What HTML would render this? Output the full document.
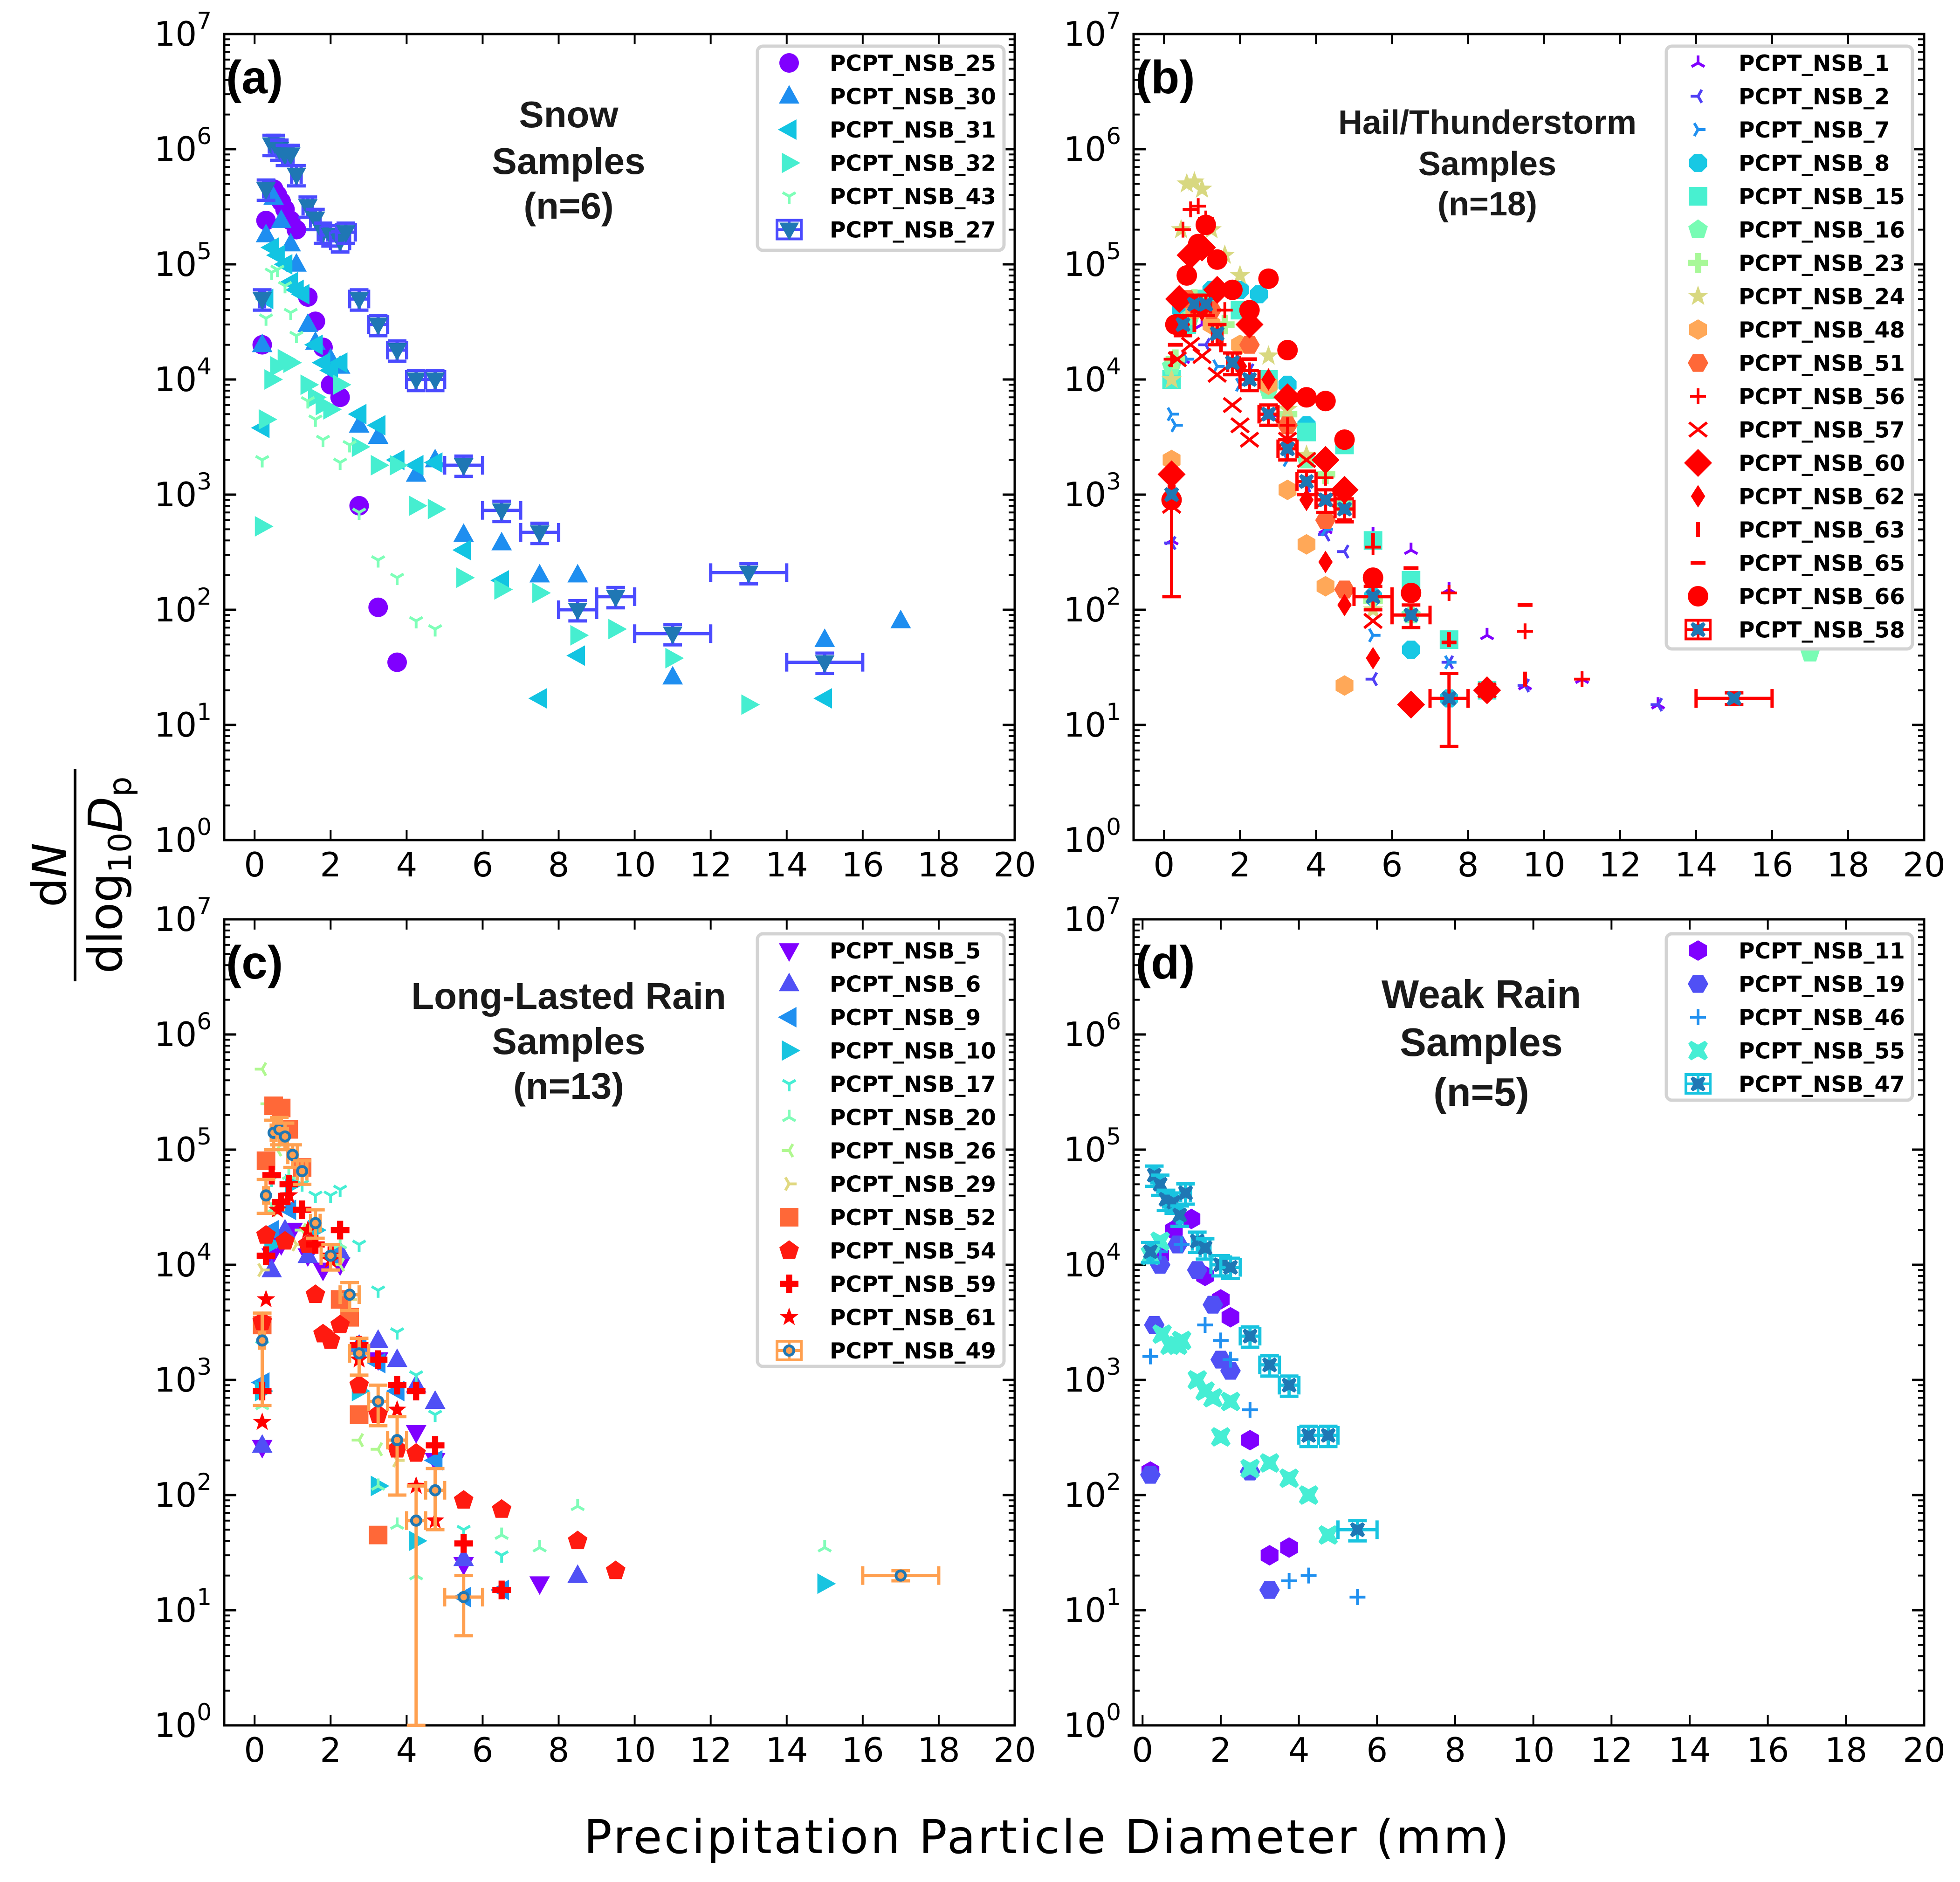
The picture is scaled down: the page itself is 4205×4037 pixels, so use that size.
<!DOCTYPE html>
<html><head><meta charset="utf-8"><style>
html,body{margin:0;padding:0;background:#fff;}
svg{display:block;}
text{font-family:"DejaVu Sans","Liberation Sans",sans-serif;}
text.lib{font-family:"Liberation Sans",sans-serif;}
</style></head><body>
<svg id="fig" xmlns="http://www.w3.org/2000/svg" width="4205" height="4037" viewBox="0 0 4205 4037">
<rect x="0" y="0" width="4205" height="4037" fill="#fff"/>
<g id="ylab" transform="translate(161,1877) rotate(-90)">
<line x1="-228" y1="0" x2="228" y2="0" stroke="#000" stroke-width="6"/>
<text x="0" y="-20" text-anchor="middle" font-size="100">d<tspan font-style="italic">N</tspan></text>
<text x="0" y="100" text-anchor="middle" font-size="100">dlog<tspan font-size="68" dy="20">10</tspan><tspan dy="-20" font-style="italic">D</tspan><tspan font-size="68" dy="20">p</tspan></text>
</g>
<text x="2245" y="3975" text-anchor="middle" font-size="100" textLength="1985">Precipitation Particle Diameter (mm)</text>
</svg>
<script>
// ---------- Panel (a) Snow ----------
const a25x=[0.2,0.3,0.5,0.6,0.7,0.8,0.95,1.1,1.4,1.6,1.8,2.0,2.25,2.75,3.25,3.75];
const a25y=[2e4,2.4e5,4.5e5,4e5,3.5e5,3e5,2.4e5,2e5,5.2e4,3.2e4,1.9e4,9e3,7e3,800,105,35];
const a30x=[0.2,0.3,0.5,0.7,0.95,1.1,1.4,1.6,2.0,2.25,2.75,3.25,4.25,4.75,5.5,6.5,7.5,8.5,11,15,17];
const a30y=[2e4,1.8e5,3.8e5,2.4e5,1.5e5,1e5,3e4,2.1e4,1.5e4,1.3e4,4e3,3.2e3,1.5e3,2e3,450,380,200,200,26,55,80];
const a31x=[0.2,0.3,0.45,0.6,0.8,0.95,1.1,1.25,1.6,1.8,2.0,2.25,2.75,3.25,3.75,4.25,4.75,5.5,6.5,7.5,8.5,15];
const a31y=[3.8e3,5e4,1.4e5,1.2e5,1e5,7e4,6e4,5.5e4,2e4,1.4e4,1.2e4,1.4e4,5e3,4e3,2e3,1.8e3,1.9e3,330,180,17,40,17];
const a32x=[0.2,0.3,0.45,0.6,0.8,0.95,1.4,1.6,1.8,2.0,2.25,2.75,3.25,3.75,4.25,4.75,5.5,6.5,7.5,8.5,9.5,11,13];
const a32y=[530,4.5e3,1e4,1.3e4,1.5e4,1.4e4,9e3,7e3,6e3,5.5e3,9e3,2.6e3,1.8e3,1.8e3,800,750,190,150,140,60,68,38,15];
const a43x=[0.2,0.3,0.45,0.6,0.8,0.95,1.1,1.4,1.6,1.8,2.25,2.5,2.75,3.25,3.75,4.25,4.75];
const a43y=[2e3,3.4e4,8.5e4,9e4,6.5e4,3.8e4,2.4e4,6.5e3,4.5e3,3e3,1.9e3,2.7e3,700,270,190,80,68];
const a27x=[0.2,0.3,0.45,0.55,0.65,0.8,0.95,1.1,1.4,1.6,1.8,2.0,2.25,2.4,2.75,3.25,3.75,4.25,4.75,5.5,6.5,7.5,8.5,9.5,11,13,15];
const a27y=[5e4,4.5e5,1.1e6,1.1e6,1e6,9e5,9e5,6e5,3.2e5,2.5e5,1.9e5,1.8e5,1.6e5,1.9e5,5e4,3e4,1.8e4,1e4,1e4,1.8e3,730,470,100,130,62,210,35];
// ---------- Panel (b) Hail ----------
const b1x=[0.2,0.5,1.0,3.0,4.25,5.5,6.5,7.5,8.5,9.5,11,13];
const b1y=[400,1.5e4,3e4,5e3,500,450,330,150,60,22,25,15];
const b2x=[0.2,0.45,1.1,2.25,3.75,4.25,4.75,5.5,7.5,8.5,9.5,13,15];
const b2y=[380,1.5e4,2e4,1.2e4,1.2e3,450,320,25,35,20,22,15,17];
const b7x=[0.2,0.3,0.6,1.4,2.0,3.25,4.25,5.5,7.5];
const b7y=[5e3,4e3,1.5e4,1.3e4,9e3,2e3,500,60,35];
const b8x=[0.2,0.45,0.8,1.25,2.0,2.5,3.25,3.75,4.75,5.5,6.5,7.5];
const b8y=[900,4e4,5e4,6e4,6e4,5.5e4,9e3,4e3,1.1e3,130,45,17];
const b15x=[0.2,0.6,1.1,2.0,2.75,3.75,4.75,5.5,6.5,7.5,8.5];
const b15y=[1e4,3e4,5e4,4e4,1e4,3.5e3,2.7e3,400,180,55,20];
const b16x=[0.2,0.7,1.4,2.75,3.75,4.75,6.5,17];
const b16y=[1.3e4,3.5e4,6e4,8e3,2e3,800,90,42];
const b23x=[0.3,0.8,1.6,3.25,4.25,5.5];
const b23y=[1.5e4,5e4,3e4,5e3,1.5e3,120];
const b24x=[0.2,0.45,0.6,0.8,1.0,1.25,1.6,2.0,2.75,3.25,3.75,5.5];
const b24y=[1e4,2e5,5e5,5.2e5,4.5e5,2e5,1.2e5,8e4,1.6e4,5.5e3,2.2e3,100];
const b48x=[0.2,0.4,0.8,1.25,2.0,2.75,3.25,3.75,4.25,4.75];
const b48y=[2e3,3e4,4e4,3e4,2e4,9e3,1.1e3,370,160,22];
const b51x=[0.3,0.6,1.25,2.25,3.25,4.25,4.75];
const b51y=[3e4,5e4,4e4,2e4,4e3,600,150];
const b56x=[0.2,0.5,0.7,0.9,1.1,1.6,2.25,3.25,4.25,5.5,7.5,9.5,11];
const b56y=[1.5e4,2e5,3e5,3.2e5,2.5e5,4e4,1.2e4,4e3,1.4e3,350,140,65,25];
const b57x=[0.2,0.35,0.7,1.0,1.4,1.8,2.0,2.25,2.75,3.25,3.75,4.25,5.5,8.5];
const b57y=[800,1.5e4,2e4,1.6e4,1.1e4,6e3,4e3,3e3,5e3,3e3,2e3,900,80,20];
const b60x=[0.2,0.4,0.7,1.0,1.4,2.25,3.25,4.25,4.75,6.5,8.5];
const b60y=[1.5e3,5e4,1.2e5,1.4e5,6e4,3e4,7e3,2e3,1.1e3,15,20];
const b62x=[0.2,0.5,1.0,2.0,2.75,3.75,4.25,4.75,5.5,6.5];
const b62y=[1.5e3,3e4,4e4,1.3e4,1e4,900,260,110,38,15];
const b63x=[0.25,0.8,1.5,3.25,5.5,7.5,9.5];
const b63y=[1e3,3e4,2e4,3e3,400,55,25];
const b65x=[0.3,1.0,2.25,4.75,6.5,7.5,9.5];
const b65y=[2e4,4e4,1.5e4,600,230,52,110];
const b66x=[0.2,0.3,0.6,0.9,1.1,1.4,1.8,2.25,2.75,3.25,3.75,4.25,4.75,5.5,6.5];
const b66y=[900,3e4,8e4,1.5e5,2.2e5,1.1e5,6e4,4e4,7.5e4,1.8e4,7e3,6.5e3,3e3,190,140];
const b58x=[0.2,0.5,0.8,1.1,1.4,1.8,2.25,2.75,3.25,3.75,4.25,4.75,5.5,6.5,7.5,15];
const b58y=[1e3,3e4,4.5e4,4.5e4,2.5e4,1.4e4,1e4,5e3,2.5e3,1.3e3,900,750,130,90,17,17];
const b58lo=[130,2.4e4,3.6e4,3.6e4,2e4,1.1e4,8e3,4e3,2e3,1e3,700,580,100,70,6.5,15];
const b58hi=[1.6e3,3.6e4,5.4e4,5.4e4,3e4,1.7e4,1.2e4,6e3,3e3,1.6e3,1.1e3,920,160,110,28,19];
// ---------- Panel (c) Long rain ----------
const c5x=[0.2,0.45,0.7,1.0,1.4,1.8,2.25,3.25,4.25,4.75,5.5,7.5];
const c5y=[260,1.2e4,1.5e4,2e4,1.2e4,9e3,1e4,1.5e3,350,200,25,17];
const c6x=[0.2,0.45,0.8,1.4,2.25,2.75,3.25,3.75,4.25,4.75,5.5,8.5];
const c6y=[270,9e3,2e4,1.2e4,1.3e4,2e3,2.2e3,1.5e3,900,650,28,20];
const c9x=[0.2,0.45,0.9,1.4,2.0,2.75,3.25,3.75,4.75,5.5,6.5];
const c9y=[950,2e4,3e4,1.5e4,1.2e4,1.9e3,1.4e3,800,200,13,15];
const c10x=[0.2,0.45,1.0,1.6,2.75,3.25,4.25,15];
const c10y=[800,1.5e4,5e4,2e4,800,120,40,17];
const c17x=[0.2,0.45,0.8,1.25,1.6,2.0,2.25,2.75,3.25,3.75,4.25,4.75,5.5,6.5];
const c17y=[2e3,5.5e4,1.2e5,5e4,4e4,4e4,4.5e4,1.5e4,6e3,2.6e3,1.1e3,500,50,30];
const c20x=[0.2,0.45,0.9,2.25,3.25,3.75,4.25,6.5,7.5,8.5,15];
const c20y=[600,3e4,6e4,1.5e4,120,55,20,45,35,80,35];
const c26x=[0.2,0.35,0.6,1.25,2.25,2.75,3.25];
const c26y=[5e5,2.5e5,1e5,2e4,1e4,300,250];
const c29x=[0.2,0.6,1.1,2.5,3.75];
const c29y=[9e3,3e4,1.5e4,5e3,200];
const c52x=[0.2,0.3,0.5,0.7,0.9,1.25,2.25,2.5,2.75,3.25];
const c52y=[3e3,8e4,2.4e5,2.3e5,1.5e5,7e4,5e3,3.5e3,500,45];
const c54x=[0.2,0.3,0.8,1.4,1.6,1.8,2.0,2.25,2.75,3.25,3.75,4.25,5.5,6.5,8.5,9.5];
const c54y=[3.2e3,1.8e4,1.6e4,1.5e4,5.5e3,2.5e3,2.2e3,3e3,900,500,250,230,90,75,40,22];
const c59x=[0.2,0.3,0.45,0.7,0.9,1.25,1.6,2.0,2.25,2.75,3.25,3.75,4.25,4.75,5.5,6.5];
const c59y=[800,1.2e4,6e4,3.5e4,5e4,3e4,1.5e4,1.2e4,2e4,2e3,1.5e3,900,800,270,38,15];
const c61x=[0.2,0.3,0.6,0.9,1.4,2.0,2.75,3.75,4.25,4.75];
const c61y=[430,5e3,3e4,4e4,2e4,1.1e4,1.5e3,550,120,60];
const c49x=[0.2,0.3,0.5,0.65,0.8,1.0,1.25,1.6,2.0,2.5,2.75,3.25,3.75,4.25,4.75,5.5,17];
const c49y=[2.2e3,4e4,1.4e5,1.5e5,1.3e5,9e4,6.5e4,2.3e4,1.2e4,5.5e3,1.7e3,650,300,60,110,13,20];
const c49lo=[600,2.8e4,1e5,1.1e5,1e5,7e4,5e4,1.7e4,9e3,4e3,1.1e3,400,100,1,50,6,18];
const c49hi=[3.8e3,5.5e4,1.8e5,1.9e5,1.7e5,1.1e5,8e4,3e4,1.5e4,7e3,2.3e3,900,480,120,170,20,22];
// ---------- Panel (d) Weak rain ----------
const d11x=[0.2,0.45,0.8,1.25,1.6,2.0,2.25,2.75,3.25,3.75];
const d11y=[160,1.2e4,2e4,2.5e4,8e3,5e3,3.5e3,300,30,35];
const d19x=[0.2,0.3,0.45,0.9,1.4,1.8,2.0,2.25,2.75,3.25];
const d19y=[150,3e3,1e4,1.5e4,9e3,4.5e3,1.5e3,1.2e3,160,15];
const d46x=[0.2,0.45,1.0,1.6,2.0,2.25,2.75,3.75,4.25,5.5];
const d46y=[1.6e3,1.3e4,1.5e4,3e3,2.2e3,1.5e3,550,18,20,13];
const d55x=[0.2,0.45,0.5,0.7,0.9,1.0,1.4,1.6,1.8,2.25,2.0,2.75,3.25,3.75,4.25,4.75];
const d55y=[1.2e4,1.6e4,2.5e3,2e3,2e3,2.2e3,1e3,800,700,650,320,170,190,140,100,45];
const d47x=[0.2,0.3,0.45,0.6,0.8,0.95,1.1,1.4,1.6,2.0,2.25,2.75,3.25,3.75,4.25,4.75,5.5];
const d47y=[1.3e4,6e4,5e4,3.7e4,3.5e4,2.7e4,4.2e4,1.6e4,1.4e4,1e4,9.5e3,2.4e3,1.35e3,900,330,330,50];

const xTicks=[0,2,4,6,8,10,12,14,16,18,20];
const yDecades=[0,1,2,3,4,5,6,7];

const NS='http://www.w3.org/2000/svg';
const svg=document.getElementById('fig');
function mkEl(tag,attrs,parent){const e=document.createElementNS(NS,tag);for(const k in attrs)e.setAttribute(k,attrs[k]);(parent||svg).appendChild(e);return e;}

const panels={
 a:{L:481,T:73,W:1696,H:1729,x0:-0.8,x1:20},
 b:{L:2432,T:73,W:1696,H:1729,x0:-0.8,x1:20},
 c:{L:481,T:1972,W:1696,H:1729,x0:-0.8,x1:20},
 d:{L:2432,T:1972,W:1696,H:1729,x0:-0.23,x1:20}
};
function X(p,v){return p.L+(v-p.x0)/(p.x1-p.x0)*p.W;}
function Y(p,v){return p.T+(7-Math.log10(v))/7*p.H;}

function marker(g,m,cx,cy,s,c){
 let e;
 const poly=(pts)=>mkEl('polygon',{points:pts.map(p=>(cx+p[0])+','+(cy+p[1])).join(' '),fill:c},g);
 const reg=(n,r,rot)=>{const pts=[];for(let i=0;i<n;i++){const a=rot+i*2*Math.PI/n;pts.push([r*Math.sin(a),-r*Math.cos(a)]);}return poly(pts);};
 const ln=(x1,y1,x2,y2,w)=>mkEl('line',{x1:cx+x1,y1:cy+y1,x2:cx+x2,y2:cy+y2,stroke:c,'stroke-width':w},g);
 switch(m){
  case 'o': e=mkEl('circle',{cx:cx,cy:cy,r:s,fill:c},g);break;
  case '^': e=poly([[0,-s*1.15],[s*1.05,s*0.75],[-s*1.05,s*0.75]]);break;
  case 'v': e=poly([[0,s*1.15],[s*1.05,-s*0.75],[-s*1.05,-s*0.75]]);break;
  case '<': e=poly([[-s*1.15,0],[s*0.75,-s*1.05],[s*0.75,s*1.05]]);break;
  case '>': e=poly([[s*1.15,0],[-s*0.75,-s*1.05],[-s*0.75,s*1.05]]);break;
  case 's': e=poly([[-s*0.95,-s*0.95],[s*0.95,-s*0.95],[s*0.95,s*0.95],[-s*0.95,s*0.95]]);break;
  case 'p': e=reg(5,s*1.05,0);break;
  case 'h': e=reg(6,s*1.05,0);break;
  case 'H': e=reg(6,s*1.05,Math.PI/6);break;
  case '8': e=reg(8,s,Math.PI/8);break;
  case 'D': e=reg(4,s*1.2,0);break;
  case 'd': e=poly([[0,-s*1.1],[s*0.7,0],[0,s*1.1],[-s*0.7,0]]);break;
  case 'P': e=poly([[-s*0.33,-s],[s*0.33,-s],[s*0.33,-s*0.33],[s,-s*0.33],[s,s*0.33],[s*0.33,s*0.33],[s*0.33,s],[-s*0.33,s],[-s*0.33,s*0.33],[-s,s*0.33],[-s,-s*0.33],[-s*0.33,-s*0.33]]);break;
  case 'X': {const k=s*0.3,r=s; e=poly([[-r+k,-r],[0,-2*k+0.01],[r-k,-r],[r,-r+k],[2*k,0],[r,r-k],[r-k,r],[0,2*k],[-r+k,r],[-r,r-k],[-2*k,0],[-r,-r+k]]);break;}
  case '*': {const pts=[];for(let i=0;i<10;i++){const a=i*Math.PI/5;const r=i%2?s*0.45:s*1.1;pts.push([r*Math.sin(a),-r*Math.cos(a)]);}e=poly(pts);break;}
  case '+': e=ln(-s,0,s,0,6);ln(0,-s,0,s,6);break;
  case 'x': e=ln(-s,-s*0.8,s,s*0.8,6);ln(-s,s*0.8,s,-s*0.8,6);break;
  case '1': e=ln(0,0,0,s,6);ln(0,0,-s*0.87,-s*0.5,6);ln(0,0,s*0.87,-s*0.5,6);break;
  case '2': e=ln(0,0,0,-s,6);ln(0,0,-s*0.87,s*0.5,6);ln(0,0,s*0.87,s*0.5,6);break;
  case '3': e=ln(0,0,-s,0,6);ln(0,0,s*0.5,-s*0.87,6);ln(0,0,s*0.5,s*0.87,6);break;
  case '4': e=ln(0,0,s,0,6);ln(0,0,-s*0.5,-s*0.87,6);ln(0,0,-s*0.5,s*0.87,6);break;
  case '|': e=ln(0,-s,0,s,8);break;
  case '_': e=ln(-s,0,s,0,8);break;
  case 'oc': e=mkEl('circle',{cx:cx,cy:cy,r:s,fill:'#ffa050',stroke:'#1f77b4','stroke-width':6},g);break;
 }
 return e;
}
function halfBin(x){return x<1?0.0625:x<2?0.125:x<5?0.25:x<10?0.5:1;}

const series=[
 {p:'a',n:'PCPT_NSB_25',xs:a25x,ys:a25y,m:'o',c:'#8000ff',s:21},
 {p:'a',n:'PCPT_NSB_30',xs:a30x,ys:a30y,m:'^',c:'#1e8ef0',s:21},
 {p:'a',n:'PCPT_NSB_31',xs:a31x,ys:a31y,m:'<',c:'#12c4e2',s:21},
 {p:'a',n:'PCPT_NSB_32',xs:a32x,ys:a32y,m:'>',c:'#46eed0',s:21},
 {p:'a',n:'PCPT_NSB_43',xs:a43x,ys:a43y,m:'1',c:'#7effb8',s:16},
 {p:'a',n:'PCPT_NSB_27',xs:a27x,ys:a27y,m:'v',c:'#1f77b4',s:20,err:'#4b4bff'},
 {p:'b',n:'PCPT_NSB_1',xs:b1x,ys:b1y,m:'2',c:'#8000ff',s:16},
 {p:'b',n:'PCPT_NSB_2',xs:b2x,ys:b2y,m:'3',c:'#5040f5',s:16},
 {p:'b',n:'PCPT_NSB_7',xs:b7x,ys:b7y,m:'4',c:'#2090f0',s:16},
 {p:'b',n:'PCPT_NSB_8',xs:b8x,ys:b8y,m:'8',c:'#18c8e4',s:21},
 {p:'b',n:'PCPT_NSB_15',xs:b15x,ys:b15y,m:'s',c:'#48f0d0',s:21},
 {p:'b',n:'PCPT_NSB_16',xs:b16x,ys:b16y,m:'p',c:'#78fcb4',s:21},
 {p:'b',n:'PCPT_NSB_23',xs:b23x,ys:b23y,m:'P',c:'#a8f898',s:21},
 {p:'b',n:'PCPT_NSB_24',xs:b24x,ys:b24y,m:'*',c:'#d8d880',s:21},
 {p:'b',n:'PCPT_NSB_48',xs:b48x,ys:b48y,m:'h',c:'#ffa858',s:21},
 {p:'b',n:'PCPT_NSB_51',xs:b51x,ys:b51y,m:'H',c:'#ff6838',s:21},
 {p:'b',n:'PCPT_NSB_56',xs:b56x,ys:b56y,m:'+',c:'#ff0000',s:17},
 {p:'b',n:'PCPT_NSB_57',xs:b57x,ys:b57y,m:'x',c:'#ff0000',s:19},
 {p:'b',n:'PCPT_NSB_60',xs:b60x,ys:b60y,m:'D',c:'#ff0000',s:25},
 {p:'b',n:'PCPT_NSB_62',xs:b62x,ys:b62y,m:'d',c:'#ff0000',s:22},
 {p:'b',n:'PCPT_NSB_63',xs:b63x,ys:b63y,m:'|',c:'#ff0000',s:16},
 {p:'b',n:'PCPT_NSB_65',xs:b65x,ys:b65y,m:'_',c:'#ff0000',s:16},
 {p:'b',n:'PCPT_NSB_66',xs:b66x,ys:b66y,m:'o',c:'#ff0000',s:22},
 {p:'b',n:'PCPT_NSB_58',xs:b58x,ys:b58y,m:'X',c:'#1f77b4',s:16,err:'#ff0000',lo:b58lo,hi:b58hi},
 {p:'c',n:'PCPT_NSB_5',xs:c5x,ys:c5y,m:'v',c:'#8000ff',s:21},
 {p:'c',n:'PCPT_NSB_6',xs:c6x,ys:c6y,m:'^',c:'#5050f5',s:21},
 {p:'c',n:'PCPT_NSB_9',xs:c9x,ys:c9y,m:'<',c:'#2090f0',s:21},
 {p:'c',n:'PCPT_NSB_10',xs:c10x,ys:c10y,m:'>',c:'#18c4e0',s:21},
 {p:'c',n:'PCPT_NSB_17',xs:c17x,ys:c17y,m:'1',c:'#46eed4',s:16},
 {p:'c',n:'PCPT_NSB_20',xs:c20x,ys:c20y,m:'2',c:'#80fcb8',s:16},
 {p:'c',n:'PCPT_NSB_26',xs:c26x,ys:c26y,m:'3',c:'#b0f890',s:16},
 {p:'c',n:'PCPT_NSB_29',xs:c29x,ys:c29y,m:'4',c:'#e0d880',s:16},
 {p:'c',n:'PCPT_NSB_52',xs:c52x,ys:c52y,m:'s',c:'#ff6838',s:21},
 {p:'c',n:'PCPT_NSB_54',xs:c54x,ys:c54y,m:'p',c:'#ff1a10',s:21},
 {p:'c',n:'PCPT_NSB_59',xs:c59x,ys:c59y,m:'P',c:'#ff0000',s:20},
 {p:'c',n:'PCPT_NSB_61',xs:c61x,ys:c61y,m:'*',c:'#ff0000',s:19},
 {p:'c',n:'PCPT_NSB_49',xs:c49x,ys:c49y,m:'oc',c:'#1f77b4',s:10,err:'#ffa050',lo:c49lo,hi:c49hi},
 {p:'d',n:'PCPT_NSB_11',xs:d11x,ys:d11y,m:'h',c:'#8000ff',s:21},
 {p:'d',n:'PCPT_NSB_19',xs:d19x,ys:d19y,m:'H',c:'#5050f5',s:21},
 {p:'d',n:'PCPT_NSB_46',xs:d46x,ys:d46y,m:'+',c:'#2090f0',s:17},
 {p:'d',n:'PCPT_NSB_55',xs:d55x,ys:d55y,m:'X',c:'#46eed4',s:21},
 {p:'d',n:'PCPT_NSB_47',xs:d47x,ys:d47y,m:'X',c:'#1f77b4',s:16,err:'#18c4e0'}
];

// axes
for(const key in panels){
 const p=panels[key];
 const g=mkEl('g',{});
 
 
 const B=p.T+p.H,R=p.L+p.W;
 xTicks.forEach(t=>{
  const x=X(p,t);
  mkEl('line',{x1:x,y1:B,x2:x,y2:B-22,stroke:'#000','stroke-width':4},g);
  mkEl('line',{x1:x,y1:p.T,x2:x,y2:p.T+22,stroke:'#000','stroke-width':4},g);
  const tl=mkEl('text',{x:x,y:B+78,'text-anchor':'middle','font-size':72},g);
  tl.textContent=String(t);
  
  
 });
 yDecades.forEach(d=>{
  const y=Y(p,Math.pow(10,d));
  mkEl('line',{x1:p.L,y1:y,x2:p.L+26,y2:y,stroke:'#000','stroke-width':5},g);
  mkEl('line',{x1:R,y1:y,x2:R-26,y2:y,stroke:'#000','stroke-width':5},g);
  if(d<7){for(let k=2;k<10;k++){const yy=Y(p,k*Math.pow(10,d));
   mkEl('line',{x1:p.L,y1:yy,x2:p.L+13,y2:yy,stroke:'#000','stroke-width':4},g);
   mkEl('line',{x1:R,y1:yy,x2:R-13,y2:yy,stroke:'#000','stroke-width':4},g);}}
  const tl=mkEl('text',{x:p.L-27,y:y+25,'text-anchor':'end','font-size':72},g);
  const t1=mkEl('tspan',{},tl);t1.textContent='10';
  const t2=mkEl('tspan',{'font-size':50,dy:-36},tl);t2.textContent=String(d);
  
  
 });
 mkEl('rect',{x:p.L,y:p.T,width:p.W,height:p.H,fill:'none',stroke:'#000','stroke-width':5},g);
}

// plot series
series.forEach(sr=>{
 const p=panels[sr.p];
 const g=mkEl('g',{});
 
 
 sr.xs.forEach((xv,i)=>{
  const yv=sr.ys[i];const cx=X(p,xv),cy=Y(p,yv);
  if(sr.err){
   const hb=halfBin(xv);
   const lo=sr.lo?sr.lo[i]:yv*0.8, hi=sr.hi?sr.hi[i]:yv*1.2;
   const x1=X(p,xv-hb),x2=X(p,xv+hb),y1=Math.min(Y(p,Math.max(lo,1)),p.T+p.H),y2=Y(p,hi);
   const lc=sr.err,cap=20,w=7;
   mkEl('line',{x1:x1,y1:cy,x2:x2,y2:cy,stroke:lc,'stroke-width':w},g);
   mkEl('line',{x1:cx,y1:y1,x2:cx,y2:y2,stroke:lc,'stroke-width':w},g);
   mkEl('line',{x1:x1,y1:cy-cap,x2:x1,y2:cy+cap,stroke:lc,'stroke-width':w},g);
   mkEl('line',{x1:x2,y1:cy-cap,x2:x2,y2:cy+cap,stroke:lc,'stroke-width':w},g);
   if(lo>=1)mkEl('line',{x1:cx-cap,y1:y1,x2:cx+cap,y2:y1,stroke:lc,'stroke-width':w},g);
   mkEl('line',{x1:cx-cap,y1:y2,x2:cx+cap,y2:y2,stroke:lc,'stroke-width':w},g);
  }
  const mEl=marker(g,sr.m,cx,cy,sr.s,sr.c);
  
  
 });
});

// legends
const legBoxes={a:[1625,99,529,438],b:[3575,99,528,1293],c:[1625,2003,529,928],d:[3575,2003,528,357]};
for(const key in legBoxes){
 const b=legBoxes[key];
 const g=mkEl('g',{});
 
 
 mkEl('rect',{x:b[0],y:b[1],width:b[2],height:b[3],rx:12,fill:'#fff',stroke:'#d3d3d3','stroke-width':7},g);
 let row=0;
 series.filter(s=>s.p===key).forEach(sr=>{
  const cy=b[1]+36+row*71.5,cx=b[0]+68;
  const eg=mkEl('g',{},g);
  
  
  if(sr.err){
   mkEl('rect',{x:cx-26,y:cy-20,width:52,height:40,fill:'none',stroke:sr.err,'stroke-width':6},eg);
   mkEl('line',{x1:cx,y1:cy-20,x2:cx,y2:cy+20,stroke:sr.err,'stroke-width':6},eg);
   mkEl('line',{x1:cx-26,y1:cy,x2:cx+26,y2:cy,stroke:sr.err,'stroke-width':6},eg);
  }
  marker(eg,sr.m,cx,cy,sr.s,sr.c);
  const t=mkEl('text',{x:b[0]+155,y:cy+17,'font-size':47,'font-weight':'bold'},eg);
  t.textContent=sr.n;
  row++;
 });
}

// panel labels & titles
const labels=[['(a)',485,200],['(b)',2436,200],['(c)',485,2099],['(d)',2436,2099]];
labels.forEach(l=>{
 const t=mkEl('text',{x:l[1],y:l[2],'font-size':100,'font-weight':'bold','class':'lib'});
 t.setAttribute('style','font-family:"Liberation Sans",sans-serif');
 t.textContent=l[0];
 
 
});
const titles=[
 [1220,[['Snow',273],['Samples',373],['(n=6)',469]],80],
 [3191,[['Hail/Thunderstorm',287],['Samples',376],['(n=18)',462]],72],
 [1220,[['Long-Lasted Rain',2164],['Samples',2261],['(n=13)',2357]],80],
 [3178,[['Weak Rain',2162],['Samples',2265],['(n=5)',2372]],85]
];
titles.forEach(tt=>{
 tt[1].forEach(line=>{
  const t=mkEl('text',{x:tt[0],y:line[1],'text-anchor':'middle','font-size':tt[2],'font-weight':'bold','class':'lib',fill:'#1a1a1a'});
  t.setAttribute('style','font-family:"Liberation Sans",sans-serif');
  t.textContent=line[0];
  
  
 });
});
</script>
</body></html>
